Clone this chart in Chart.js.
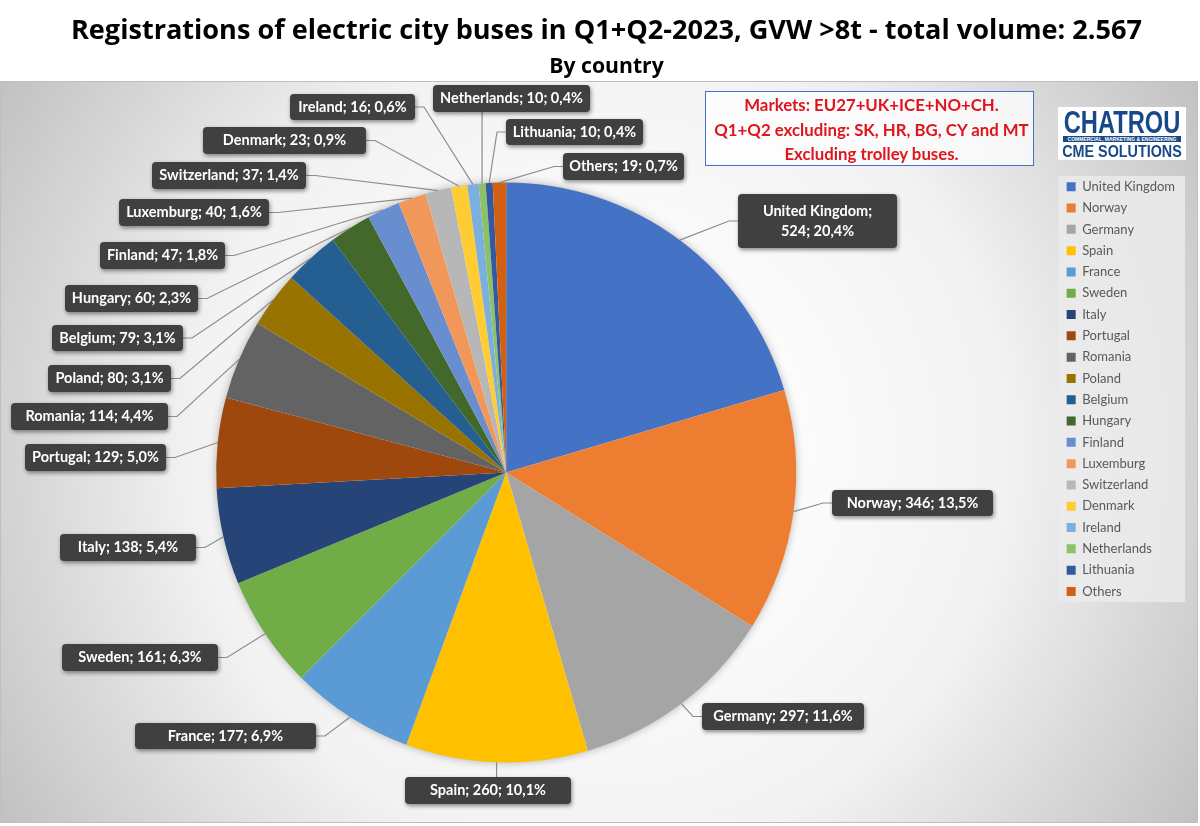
<!DOCTYPE html>
<html>
<head>
<meta charset="utf-8">
<title>Registrations of electric city buses</title>
<script src="https://cdn.jsdelivr.net/npm/chart.js@4/dist/chart.umd.js"></script>
<style>
  html, body { margin: 0; padding: 0; background: #fff; }
  #wrap { position: relative; width: 1200px; height: 826px; overflow: hidden; }
  #note {
    position: absolute; left: 705px; top: 91px; width: 329px; height: 75px;
    border: 1px solid #4472c4; background: rgba(255,255,255,.75); color: #e0141c;
    font: bold 16.8px/24.5px Lato, sans-serif; text-align: center; box-sizing: border-box; padding: 1px 0 0 4px; white-space: nowrap;
  }
  #logo {
    position: absolute; left: 1058px; top: 107px; width: 128px; height: 53px; background: #fff; overflow: hidden;
    color: #17498a; font-family: "Liberation Sans", sans-serif; font-weight: bold; text-align: center; white-space: nowrap;
  }
  #logo div { position: absolute; left: -40px; width: 208px; }
  #logo .a { top: 2px; font-size: 32px; line-height: 27px; transform: scaleX(.74); }
  #logo .b { top: 29px; left: 5px; width: 118px; height: 6px; background: #17498a; color: #fff; font-size: 5px; line-height: 6px; }
  #logo .c { top: 35px; font-size: 16.5px; line-height: 18px; transform: scaleX(.87); }
</style>
</head>
<body>
<div id="wrap">
  <canvas id="chart" width="1200" height="826"></canvas>
  <div id="note">Markets: EU27+UK+ICE+NO+CH.<br>Q1+Q2 excluding: SK, HR, BG, CY and MT<br>Excluding trolley buses.</div>
  <div id="logo"><div class="a">CHATROU</div><div class="b">COMMERCIAL, MARKETING &amp; ENGINEERING</div><div class="c">CME SOLUTIONS</div></div>
</div>
<script>
const countries = ['United Kingdom', 'Norway', 'Germany', 'Spain', 'France', 'Sweden', 'Italy', 'Portugal', 'Romania', 'Poland',
  'Belgium', 'Hungary', 'Finland', 'Luxemburg', 'Switzerland', 'Denmark', 'Ireland', 'Netherlands', 'Lithuania', 'Others']
const registrations = [524, 346, 297, 260, 177, 161, 138, 129, 114, 80, 79, 60, 47, 40, 37, 23, 16, 10, 10, 19]
const shares = ['20,4%', '13,5%', '11,6%', '10,1%', '6,9%', '6,3%', '5,4%', '5,0%', '4,4%', '3,1%',
  '3,1%', '2,3%', '1,8%', '1,6%', '1,4%', '0,9%', '0,6%', '0,4%', '0,4%', '0,7%']
const sliceColors = ['#4472c4', '#ed7d31', '#a5a5a5', '#ffc000', '#5b9bd5', '#70ad47', '#264478', '#9e480e', '#636363', '#997300',
  '#255e91', '#43682b', '#698ed0', '#f1975a', '#b7b7b7', '#ffcd33', '#7cafdd', '#8cc168', '#335aa1', '#d26012']

// callout boxes as placed in the picture: left, top, width, height
const calloutBoxes = [
  [738, 194, 159, 54], [832, 490, 161, 26], [702, 703, 162, 27], [405, 777, 166, 27], [135, 723, 181, 26],
  [62, 644, 156, 27], [60, 534, 136, 27], [25, 444, 141, 27], [11, 403, 157, 27], [48, 365, 123, 27],
  [52, 325, 131, 26], [65, 285, 133, 27], [100, 242, 125, 27], [119, 199, 150, 27], [152, 162, 154, 27],
  [203, 127, 163, 27], [290, 94, 125, 26], [433, 85, 157, 27], [506, 119, 137, 26], [563, 153, 121, 27]
]

const LEGEND_SHIFT = 46
const TITLE_SHIFT = 37

const backdrop = {
  id: 'backdrop',
  beforeDraw(chart) {
    const { ctx } = chart
    ctx.save()
    const grad = ctx.createRadialGradient(600, 450, 120, 600, 450, 760)
    grad.addColorStop(0, '#ffffff')
    grad.addColorStop(0.45, '#f2f2f2')
    grad.addColorStop(1, '#b8b8b8')
    ctx.fillStyle = grad
    ctx.fillRect(1, 82, 1197, 740)
    ctx.strokeStyle = '#bfbfbf'
    ctx.strokeRect(0.5, 81.5, 1197, 741)
    // legend panel
    const lg = chart.legend
    ctx.fillStyle = 'rgba(235,235,235,0.85)'
    ctx.fillRect(lg.left, 176, lg.width, 426)
    ctx.restore()
  },
  beforeDatasetsDraw(chart) {
    // soft shadow under the whole pie
    const { ctx } = chart
    const first = chart.getDatasetMeta(0).data[0]
    ctx.save()
    ctx.shadowColor = 'rgba(0,0,0,0.35)'
    ctx.shadowBlur = 10
    ctx.fillStyle = '#ffffff'
    ctx.beginPath()
    ctx.arc(first.x, first.y, first.outerRadius - 1, 0, Math.PI * 2)
    ctx.fill()
    ctx.restore()
  }
}

// the legend and the titles do not sit where the layout would put them
const nudgeBoxes = {
  id: 'nudgeBoxes',
  afterLayout(chart) {
    chart.legend.left += LEGEND_SHIFT
    chart.legend.right += LEGEND_SHIFT
    chart.legend.top -= 2
    chart.boxes.forEach(box => {
      if (box.options && box.position === 'top' && box !== chart.legend) {
        box.left += TITLE_SHIFT
        box.right += TITLE_SHIFT
      }
    })
  }
}

const callouts = {
  id: 'callouts',
  afterDatasetsDraw(chart) {
    const { ctx } = chart
    const arcs = chart.getDatasetMeta(0).data
    ctx.save()
    arcs.forEach((arc, i) => {
      const [left, top, w, h] = calloutBoxes[i]
      const mid = (arc.startAngle + arc.endAngle) / 2
      const px = arc.x + arc.outerRadius * Math.cos(mid)
      const py = arc.y + arc.outerRadius * Math.sin(mid)
      ctx.beginPath()
      ctx.moveTo(px, py)
      if (px > left && px < left + w) {
        ctx.lineTo(px, py > top ? top + h : top)
      } else if (px < left) {
        ctx.lineTo(left - 9, top + h / 2)
        ctx.lineTo(left, top + h / 2)
      } else {
        ctx.lineTo(left + w + 9, top + h / 2)
        ctx.lineTo(left + w, top + h / 2)
      }
      ctx.strokeStyle = '#8c8c8c'
      ctx.lineWidth = 1.2
      ctx.stroke()
    })
    arcs.forEach((arc, i) => {
      const [left, top, w, h] = calloutBoxes[i]
      ctx.save()
      ctx.shadowColor = 'rgba(0,0,0,0.45)'
      ctx.shadowBlur = 4
      ctx.shadowOffsetX = 1
      ctx.shadowOffsetY = 2
      ctx.fillStyle = '#404040'
      ctx.beginPath()
      ctx.roundRect(left, top, w, h, 4)
      ctx.fill()
      ctx.restore()
      ctx.fillStyle = '#ffffff'
      ctx.font = 'bold 14.5px Lato, sans-serif'
      ctx.textAlign = 'center'
      ctx.textBaseline = 'middle'
      const cx = left + w / 2
      const cy = top + h / 2
      if (i === 0) {
        ctx.fillText(countries[i] + ';', cx, cy - 9.5)
        ctx.fillText(registrations[i] + '; ' + shares[i], cx, cy + 10)
      } else {
        ctx.fillText(countries[i] + '; ' + registrations[i] + '; ' + shares[i], cx, cy)
      }
    })
    ctx.restore()
  }
}

new Chart(document.getElementById('chart'), {
  type: 'pie',
  data: {
    labels: countries,
    datasets: [{
      data: registrations,
      backgroundColor: sliceColors,
      borderWidth: 0,
      radius: 290
    }]
  },
  options: {
    responsive: false,
    animation: false,
    layout: { padding: { left: 0, right: 61, top: 0, bottom: 55 } },
    plugins: {
      title: {
        display: true,
        text: 'Registrations of electric city buses in Q1+Q2-2023, GVW >8t - total volume: 2.567',
        color: '#000000',
        font: { family: '"Open Sans", sans-serif', size: 27.1, weight: 'bold' },
        padding: { top: 15, bottom: 4 }
      },
      subtitle: {
        display: true,
        text: 'By country',
        color: '#000000',
        font: { family: '"Open Sans", sans-serif', size: 21.2, weight: 'bold' },
        padding: { top: 3, bottom: 94 }
      },
      legend: {
        position: 'right',
        align: 'start',
        fullSize: false,
        labels: {
          boxWidth: 9,
          boxHeight: 9,
          padding: 8.3,
          color: '#595959',
          font: { family: 'Lato, sans-serif', size: 13 }
        }
      },
      tooltip: { enabled: false }
    }
  },
  plugins: [backdrop, nudgeBoxes, callouts]
})
</script>
</body>
</html>
